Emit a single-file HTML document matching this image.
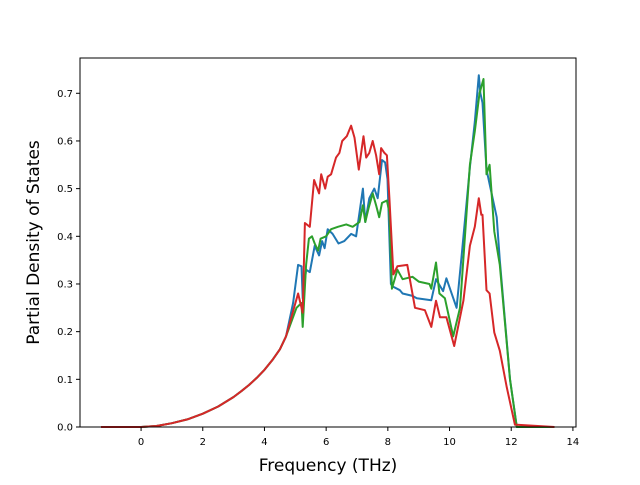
<!DOCTYPE html>
<html><head><meta charset="utf-8"><style>
body{margin:0;background:#fff}
svg{font-family:"DejaVu Sans","Liberation Sans",sans-serif}
</style></head><body>
<svg id="chart" width="640" height="480"></svg>
<script>
const xTicks=[0,2,4,6,8,10,12,14];
const yTicks=[0.0,0.1,0.2,0.3,0.4,0.5,0.6,0.7];
const lowX=[-1.3,0,0.5,1,1.5,2,2.5,3,3.25,3.5,3.75,4,4.25,4.5,4.7];
const lowY=[0,0,0.002,0.008,0.016,0.028,0.043,0.063,0.075,0.088,0.103,0.12,0.14,0.163,0.19];
const blueX=[4.93,5.09,5.2,5.24,5.35,5.47,5.63,5.77,5.87,5.95,6.05,6.21,6.4,6.59,6.81,6.97,7.08,7.19,7.27,7.4,7.56,7.67,7.81,7.91,7.99,8.1,8.15,8.39,8.48,8.8,8.94,9.41,9.56,9.79,9.9,10.23,10.4,10.66,10.82,10.95,11.0,11.07,11.2,11.53,11.63,11.96,12.18,13.4];
const blueY=[0.26,0.34,0.337,0.27,0.33,0.325,0.38,0.36,0.39,0.375,0.415,0.405,0.385,0.39,0.405,0.40,0.45,0.50,0.43,0.48,0.50,0.48,0.56,0.555,0.52,0.30,0.295,0.287,0.28,0.275,0.27,0.266,0.31,0.285,0.312,0.25,0.365,0.545,0.64,0.738,0.70,0.68,0.54,0.44,0.35,0.10,0,0];
const greenX=[5.04,5.2,5.24,5.35,5.44,5.54,5.63,5.74,5.82,6.0,6.16,6.38,6.65,6.86,7.08,7.19,7.27,7.38,7.51,7.62,7.72,7.81,7.97,8.05,8.13,8.31,8.48,8.8,9.0,9.35,9.41,9.56,9.67,9.85,10.12,10.34,10.66,10.82,10.97,11.1,11.2,11.3,11.45,11.63,11.96,12.18,13.4];
const greenY=[0.25,0.26,0.21,0.34,0.395,0.40,0.385,0.37,0.395,0.40,0.415,0.42,0.425,0.42,0.43,0.465,0.43,0.46,0.49,0.465,0.44,0.47,0.475,0.45,0.29,0.33,0.31,0.315,0.305,0.30,0.29,0.345,0.28,0.27,0.19,0.25,0.55,0.62,0.70,0.73,0.53,0.55,0.41,0.34,0.10,0,0];
const redX=[5.09,5.24,5.31,5.47,5.61,5.77,5.84,5.97,6.05,6.16,6.32,6.43,6.52,6.67,6.81,6.92,7.06,7.21,7.3,7.4,7.51,7.62,7.72,7.78,7.89,7.97,8.05,8.18,8.31,8.63,8.88,9.2,9.41,9.56,9.69,9.9,10.15,10.45,10.66,10.82,10.95,11.03,11.07,11.2,11.3,11.45,11.63,11.85,12.12,13.4];
const redY=[0.28,0.24,0.428,0.42,0.518,0.49,0.53,0.50,0.525,0.53,0.565,0.575,0.60,0.61,0.632,0.607,0.54,0.61,0.565,0.575,0.60,0.57,0.53,0.585,0.575,0.57,0.48,0.32,0.337,0.34,0.25,0.245,0.21,0.265,0.23,0.23,0.17,0.265,0.38,0.42,0.48,0.445,0.445,0.287,0.28,0.198,0.16,0.085,0.005,0];
const L=80,R=576,T=58,B=427,xmin=-1.98,xmax=14.1,ymin=0,ymax=0.774;
const sx=v=>L+(v-xmin)/(xmax-xmin)*(R-L);
const sy=v=>B-(v-ymin)/(ymax-ymin)*(B-T);
const svg=document.getElementById('chart');const NS='http://www.w3.org/2000/svg';
function mk(t,a,p){const e=document.createElementNS(NS,t);for(const k in a)e.setAttribute(k,a[k]);(p||svg).appendChild(e);return e;}
const series=[[blueX,blueY,'#1f77b4','series-blue'],[greenX,greenY,'#2ca02c','series-green'],[redX,redY,'#d62728','series-red']];
series.forEach(s=>{
 const xs=lowX.concat(s[0]),ys=lowY.concat(s[1]);
 const d=xs.map((x,i)=>(i?'L':'M')+sx(x).toFixed(1)+','+sy(ys[i]).toFixed(1)).join('');
 const p=mk('path',{d:d,fill:'none',stroke:s[2],'stroke-width':2,'stroke-linejoin':'round'});
 
 
});
const fr=mk('rect',{x:L,y:T,width:R-L,height:B-T,fill:'none',stroke:'#000','stroke-width':1});


xTicks.forEach(v=>{const x=sx(v);
 const t=mk('line',{x1:x,x2:x,y1:B,y2:B+4,stroke:'#000'});
 
 
 const l=mk('text',{x:x,y:B+18,'text-anchor':'middle','font-size':10});l.textContent=v;
 
 });
yTicks.forEach(v=>{const y=sy(v);
 const t=mk('line',{x1:L-4,x2:L,y1:y,y2:y,stroke:'#000'});
 
 
 const l=mk('text',{x:L-7,y:y+3.5,'text-anchor':'end','font-size':10});l.textContent=v.toFixed(1);
 
 });
const xt=mk('text',{x:(L+R)/2,y:471,'text-anchor':'middle','font-size':17});xt.textContent='Frequency (THz)';


const yt=mk('text',{x:0,y:0,'text-anchor':'middle','font-size':17,transform:'translate(39,'+((T+B)/2)+') rotate(-90)'});yt.textContent='Partial Density of States';


</script>
</body></html>
